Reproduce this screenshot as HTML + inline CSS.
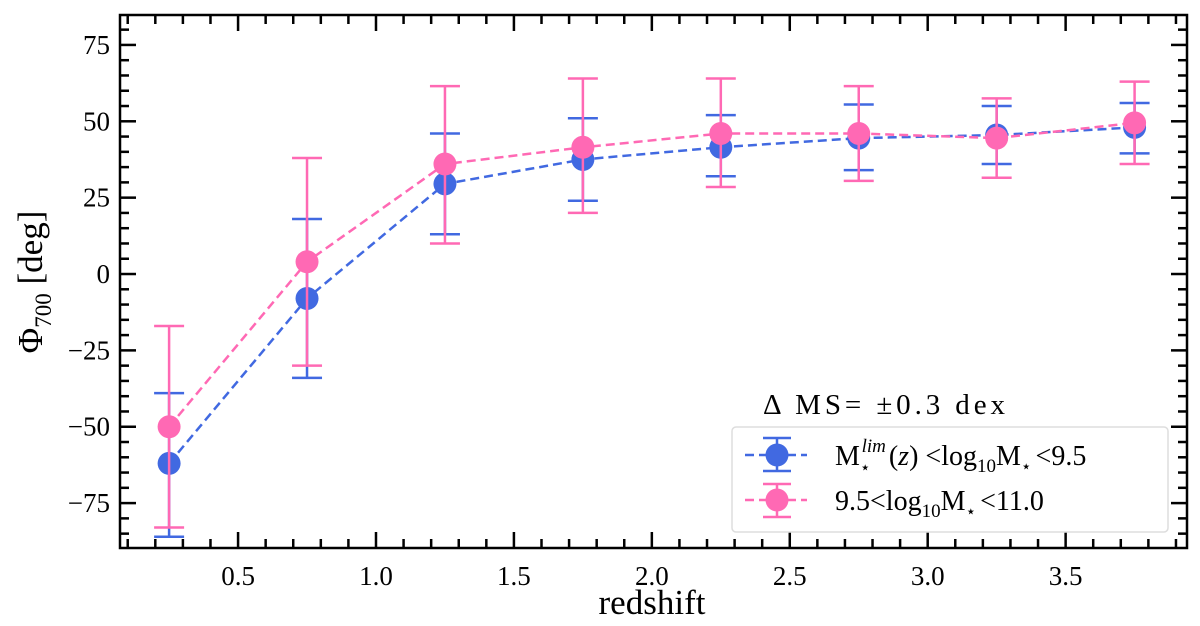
<!DOCTYPE html>
<html><head><meta charset="utf-8"><style>
body{margin:0;background:#fff;}
svg{display:block;font-family:"Liberation Serif","DejaVu Serif",serif;}
</style></head><body>
<svg id="chart" width="1200" height="626" viewBox="0 0 1200 626">
<g id="plot"></g>
<g>
<text x="763" y="414" font-size="29" textLength="242" lengthAdjust="spacing">Δ MS= ±0.3 dex</text>
<rect x="732" y="427" width="436" height="105" rx="4" fill="#fff" fill-opacity="0.8" stroke="#ddd" stroke-width="1.5"/>
<g>
<line x1="745" x2="807" y1="455" y2="455" stroke="#4169E1" stroke-width="2.5" stroke-dasharray="9,5"/>
<path d="M763,438H791M763,471H791M777,438V471" stroke="#4169E1" stroke-width="2.5"/>
<circle cx="777" cy="455" r="11.5" fill="#4169E1"/>
<text x="835" y="465" font-size="28">M<tspan dy="8" font-size="17">⋆</tspan><tspan dx="-9" dy="-21" font-size="19" font-style="italic">lim</tspan><tspan dx="3" dy="13">(<tspan font-style="italic">z</tspan>) &lt;log</tspan><tspan dy="7" font-size="19">10</tspan><tspan dy="-7">M</tspan><tspan dy="7" font-size="17">⋆</tspan><tspan dx="4" dy="-7">&lt;9.5</tspan></text>
</g>
<g>
<line x1="745" x2="807" y1="500" y2="500" stroke="#FF69B4" stroke-width="2.5" stroke-dasharray="9,5"/>
<path d="M763,484H791M763,517H791M777,484V517" stroke="#FF69B4" stroke-width="2.5"/>
<circle cx="777" cy="500" r="11.5" fill="#FF69B4"/>
<text x="835" y="510" font-size="28">9.5&lt;log<tspan dy="7" font-size="19">10</tspan><tspan dy="-7">M</tspan><tspan dy="7" font-size="17">⋆</tspan><tspan dx="4" dy="-7">&lt;11.0</tspan></text>
</g>
</g>
<text x="652" y="614" text-anchor="middle" font-size="35">redshift</text>
<text transform="translate(42,282) rotate(-90)" text-anchor="middle" font-size="35">Φ<tspan dy="9" font-size="23">700</tspan><tspan dy="-9"> [deg]</tspan></text>
</svg>
<script>
const redshifts=[0.25,0.75,1.25,1.75,2.25,2.75,3.25,3.75];
const blueVals=[-62,-8,29.5,37.5,41.5,44.5,45.5,48];
const blueLo=[-86,-34,13,24,32,34,36,39.5];
const blueHi=[-39,18,46,51,52,55.5,55,56];
const pinkVals=[-50,4,36,41.5,46,46,44.5,49.5];
const pinkLo=[-83,-30,10,20,28.5,30.5,31.5,36];
const pinkHi=[-17,38,61.5,64,64,61.5,57.5,63];
const xTicks=[0.5,1.0,1.5,2.0,2.5,3.0,3.5];
const xTickLabels=["0.5","1.0","1.5","2.0","2.5","3.0","3.5"];
const yTicks=[-75,-50,-25,0,25,50,75];
const yTickLabels=["\u221275","\u221250","\u221225","0","25","50","75"];

const L=120,R=1187,T=15,B=548,X0=0.072,X1=3.94,Y0=-89.7,Y1=84.8;
const sx=v=>L+(v-X0)/(X1-X0)*(R-L);
const sy=v=>B-(v-Y0)/(Y1-Y0)*(B-T);
const NS="http://www.w3.org/2000/svg";
const g=document.getElementById('plot');
function mk(tag,attrs,parent){const e=document.createElementNS(NS,tag);for(const k in attrs)e.setAttribute(k,attrs[k]);(parent||g).appendChild(e);return e;}

for(let v=-85;v<=85;v+=5){
  const maj=v%25===0;const len=maj?16:9;const y=sy(v);
  if(y<T||y>B)continue;
  const t1=mk('line',{x1:L,x2:L+len,y1:y,y2:y,stroke:'#000','stroke-width':2.5});
  
  
  const t2=mk('line',{x1:R,x2:R-len,y1:y,y2:y,stroke:'#000','stroke-width':2.5});
  
  
}
for(let i=1;i<=39;i++){
  const v=i/10;const maj=(i%5===0);const len=maj?16:9;const x=sx(v);
  if(x<L||x>R)continue;
  const t1=mk('line',{x1:x,x2:x,y1:B,y2:B-len,stroke:'#000','stroke-width':2.5});
  
  
  const t2=mk('line',{x1:x,x2:x,y1:T,y2:T+len,stroke:'#000','stroke-width':2.5});
  
  
}
xTicks.forEach((v,i)=>{
  const t=mk('text',{x:sx(v),y:B+37,'text-anchor':'middle','font-size':27,fill:'#000'});
  t.textContent=xTickLabels[i];
  
  
});
yTicks.forEach((v,i)=>{
  const t=mk('text',{x:L-10,y:sy(v)+9,'text-anchor':'end','font-size':27,fill:'#000'});
  t.textContent=yTickLabels[i];
  
  
});

function series(vals,lo,hi,color,name){
  const pts=redshifts.map((z,i)=>sx(z)+','+sy(vals[i])).join(' ');
  const pl=mk('polyline',{points:pts,fill:'none',stroke:color,'stroke-width':2.5,'stroke-dasharray':'9,5'});
  
  
  redshifts.forEach((z,i)=>{
    const x=sx(z);
    const e=mk('path',{d:`M${x-15},${sy(lo[i])}H${x+15}M${x-15},${sy(hi[i])}H${x+15}M${x},${sy(lo[i])}V${sy(hi[i])}`,stroke:color,'stroke-width':2.5,fill:'none'});
    
    
  });
  redshifts.forEach((z,i)=>{
    const c=mk('circle',{cx:sx(z),cy:sy(vals[i]),r:11.5,fill:color});
    
    
  });
}
series(blueVals,blueLo,blueHi,'#4169E1','low-mass');
series(pinkVals,pinkLo,pinkHi,'#FF69B4','high-mass');

const frame=mk('rect',{x:L,y:T,width:R-L,height:B-T,fill:'none',stroke:'#000','stroke-width':2.5});


</script>
</body></html>
